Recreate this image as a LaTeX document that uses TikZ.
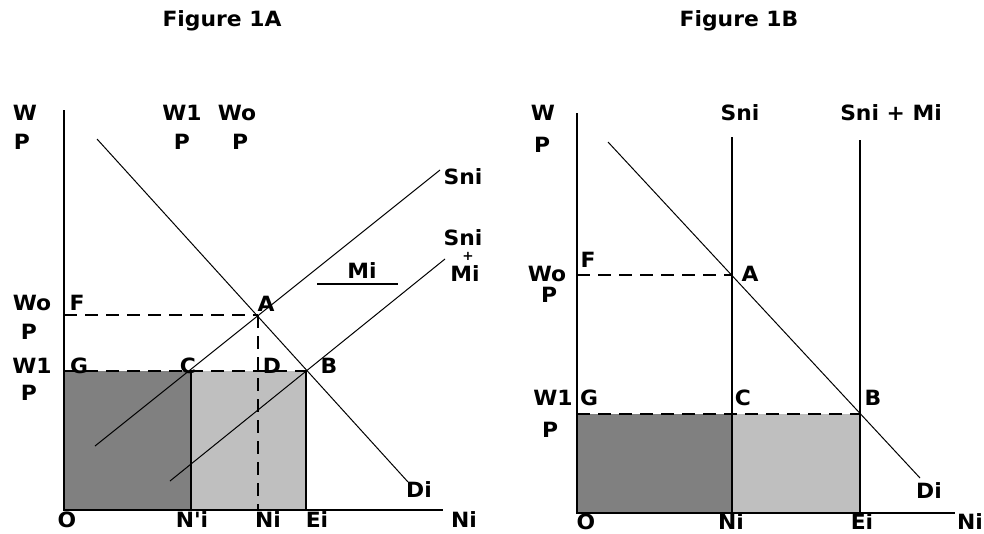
\documentclass[tikz,border=0pt]{standalone}
\usepackage{fontspec}
\newfontfamily\lblfont{DejaVu Sans}[FakeStretch=1.04]
\begin{document}
\begin{tikzpicture}[x=1pt,y=-1pt,
  lbl/.style={font=\lblfont\bfseries\fontsize{21}{24}\selectfont, inner sep=0pt, text height=15.3pt, text depth=0pt, anchor=center},
  smalllbl/.style={font=\lblfont\bfseries\fontsize{13}{15}\selectfont, inner sep=0pt, text height=8pt, text depth=0pt, anchor=center},
  axisline/.style={line width=2.4pt},
  curve/.style={line width=1pt},
  edge/.style={line width=1.4pt},
  guide/.style={line width=1.2pt, dash pattern=on 13pt off 8pt},
  darkfill/.style={fill=black!50},
  lightfill/.style={fill=black!25}
]
\useasboundingbox (0,0) rectangle (984,533);

% ================= Figure 1A =================
\node[lbl] (titleA) at (222,19) {Figure 1A};
\coordinate (Ao) at (64,510);
\coordinate (Atop) at (64,110);
\coordinate (Aright) at (443,510);
\coordinate (AG) at (64,371);
\coordinate (AF) at (64,315);
\coordinate (AC) at (191,371);
\coordinate (AB) at (306,371);
\coordinate (AA) at (258,315);
\coordinate (ANpi) at (191,510);
\coordinate (ANi) at (258,510);
\coordinate (AEi) at (306,510);

\fill[darkfill] (Ao) rectangle (AC);
\fill[lightfill] (ANpi) rectangle (AB);
\draw[edge] (ANpi) -- (AC);
\draw[edge] (AEi) -- (AB);
\draw[guide] (AG) -- (AB);
\draw[guide] (AF) -- (AA);
\draw[guide] (AA) -- (ANi);

\coordinate (ADi1) at (97,139);
\coordinate (ADi2) at (408,482);
\coordinate (ASn1) at (95,446);
\coordinate (ASn2) at (440,170);
\coordinate (ASm1) at (170,481);
\coordinate (ASm2) at (445,259);
\draw[curve] (ADi1) -- (ADi2);
\draw[curve] (ASn1) -- (ASn2);
\draw[curve] (ASm1) -- (ASm2);

\draw[axisline] (Atop) -- (Ao) -- (Aright);

\node[lbl] (AW) at (25,113) {W};
\node[lbl] (AP) at (22,142) {P};
\node[lbl] (AW1t) at (182,113) {W1};
\node[lbl] (AP1t) at (182,142) {P};
\node[lbl] (AWot) at (237,113) {Wo};
\node[lbl] (APot) at (240,142) {P};
\node[lbl] (ASni) at (463,177) {Sni};
\node[lbl] (ASni2) at (463,238) {Sni};
\node[smalllbl] (Aplus) at (468,256) {+};
\node[lbl] (AMi2) at (465,274) {Mi};
\node[lbl] (AMi) at (362,271) {Mi};
\coordinate (AMiL) at (317,284);
\coordinate (AMiR) at (398,284);
\draw[line width=1.2pt] (AMiL) -- (AMiR);
\node[lbl] (AWo) at (32,303) {Wo};
\node[lbl] (AFl) at (77,303) {F};
\node[lbl] (APo) at (29,332) {P};
\node[lbl] (AAl) at (266,304) {A};
\node[lbl] (AW1) at (32,366) {W1};
\node[lbl] (AGl) at (79,366) {G};
\node[lbl] (ACl) at (188,366) {C};
\node[lbl] (ADl) at (272,366) {D};
\node[lbl] (ABl) at (329,366) {B};
\node[lbl] (AP1) at (29,393) {P};
\node[lbl] (ADi) at (419,490) {Di};
\node[lbl] (AOl) at (67,520) {O};
\node[lbl] (ANpil) at (192,520) {N'i};
\node[lbl] (ANil) at (268,520) {Ni};
\node[lbl] (AEil) at (317,520) {Ei};
\node[lbl] (ANax) at (464,520) {Ni};

% ================= Figure 1B =================
\node[lbl] (titleB) at (739,19) {Figure 1B};
\coordinate (Bo) at (577,513);
\coordinate (Btop) at (577,113);
\coordinate (Bright) at (955,513);
\coordinate (BG) at (577,414);
\coordinate (BF) at (577,275);
\coordinate (BC) at (732,414);
\coordinate (BB) at (860,414);
\coordinate (BA) at (732,275);
\coordinate (BNi) at (732,513);
\coordinate (BEi) at (860,513);
\coordinate (BSnTop) at (732,137);
\coordinate (BSmTop) at (860,140);

\fill[darkfill] (Bo) rectangle (BC);
\fill[lightfill] (BNi) rectangle (BB);
\draw[edge] (BSnTop) -- (BNi);
\draw[edge] (BSmTop) -- (BEi);
\draw[guide] (BG) -- (BB);
\draw[guide] (BF) -- (BA);

\coordinate (BDi1) at (608,142);
\coordinate (BDi2) at (920,478);
\draw[curve] (BDi1) -- (BDi2);

\draw[axisline] (Btop) -- (Bo) -- (Bright);

\node[lbl] (BW) at (543,113) {W};
\node[lbl] (BP) at (542,145) {P};
\node[lbl] (BSni) at (740,113) {Sni};
\node[lbl] (BSniMi) at (891,113) {Sni + Mi};
\node[lbl] (BFl) at (588,260) {F};
\node[lbl] (BWo) at (547,274) {Wo};
\node[lbl] (BPo) at (549,295) {P};
\node[lbl] (BAl) at (750,274) {A};
\node[lbl] (BW1) at (553,398) {W1};
\node[lbl] (BGl) at (589,398) {G};
\node[lbl] (BCl) at (743,398) {C};
\node[lbl] (BBl) at (873,398) {B};
\node[lbl] (BP1) at (550,430) {P};
\node[lbl] (BDi) at (929,491) {Di};
\node[lbl] (BOl) at (586,522) {O};
\node[lbl] (BNil) at (731,522) {Ni};
\node[lbl] (BEil) at (862,522) {Ei};
\node[lbl] (BNax) at (970,522) {Ni};
\end{tikzpicture}
\end{document}
